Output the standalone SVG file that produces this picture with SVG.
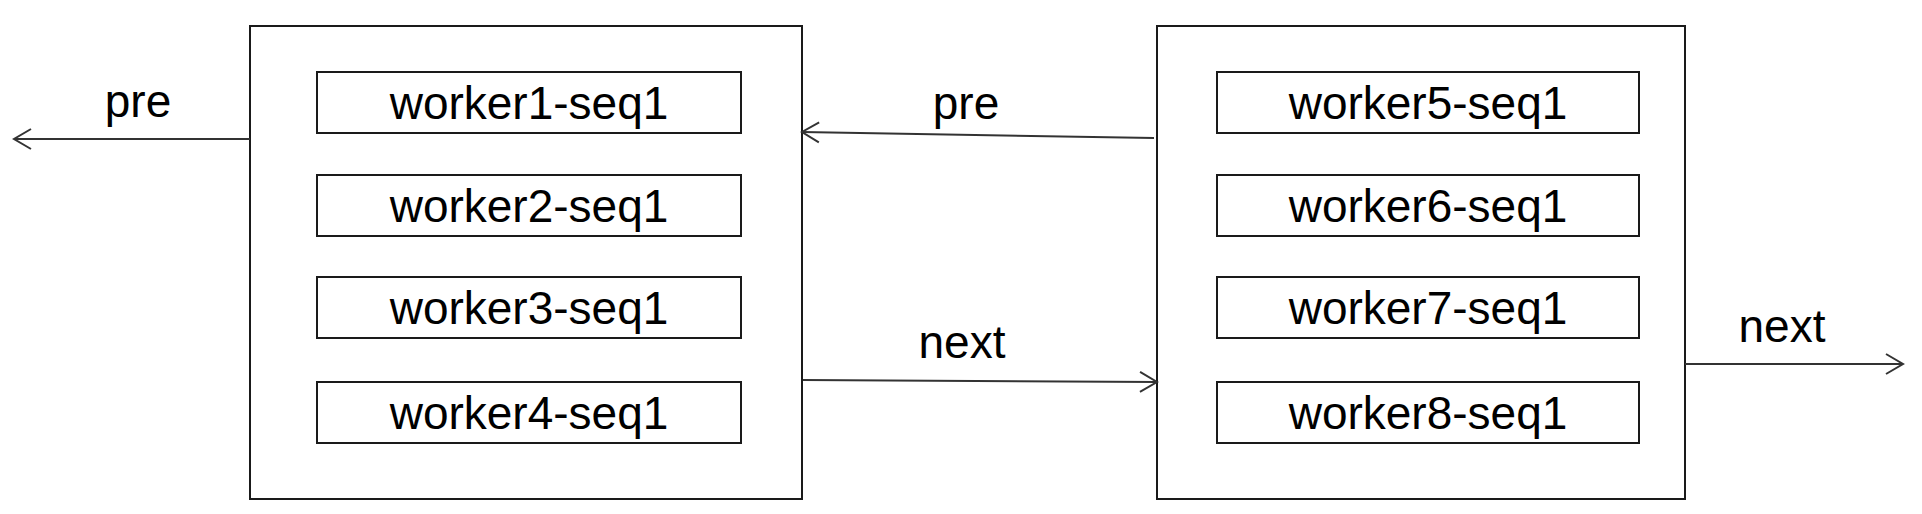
<svg xmlns="http://www.w3.org/2000/svg" width="1922" height="514" viewBox="0 0 1922 514">
<defs>
<style>
.outer{fill:#fff;stroke:#1a1a1a;stroke-width:2}
.inner{fill:#fff;stroke:#1a1a1a;stroke-width:2}
.t{font-family:"Liberation Sans",Arial,sans-serif;font-size:46px;fill:#000;text-anchor:middle}
.conn{stroke:#333;stroke-width:2;fill:none}
</style>
<marker id="arr" markerWidth="20" markerHeight="24" refX="18" refY="12" orient="auto" markerUnits="userSpaceOnUse">
<path d="M1,2 L18,12 L1,22" fill="none" stroke="#333" stroke-width="2"/>
</marker>
</defs>
<rect width="1922" height="514" fill="#fff"/>
<g id="group1">
<rect class="outer" x="250" y="26" width="552" height="473"/>
<g id="worker1"><rect class="inner" x="317" y="72" width="424" height="61"/><text class="t" x="529" y="119">worker1-seq1</text></g>
<g id="worker2"><rect class="inner" x="317" y="175" width="424" height="61"/><text class="t" x="529" y="222">worker2-seq1</text></g>
<g id="worker3"><rect class="inner" x="317" y="277" width="424" height="61"/><text class="t" x="529" y="324">worker3-seq1</text></g>
<g id="worker4"><rect class="inner" x="317" y="382" width="424" height="61"/><text class="t" x="529" y="429">worker4-seq1</text></g>
</g>
<g id="group2">
<rect class="outer" x="1157" y="26" width="528" height="473"/>
<g id="worker5"><rect class="inner" x="1217" y="72" width="422" height="61"/><text class="t" x="1428" y="119">worker5-seq1</text></g>
<g id="worker6"><rect class="inner" x="1217" y="175" width="422" height="61"/><text class="t" x="1428" y="222">worker6-seq1</text></g>
<g id="worker7"><rect class="inner" x="1217" y="277" width="422" height="61"/><text class="t" x="1428" y="324">worker7-seq1</text></g>
<g id="worker8"><rect class="inner" x="1217" y="382" width="422" height="61"/><text class="t" x="1428" y="429">worker8-seq1</text></g>
</g>
<g id="connectors">
<line class="conn" x1="250" y1="139" x2="14" y2="139" marker-end="url(#arr)"/>
<text class="t" x="138" y="117">pre</text>
<line class="conn" x1="1154" y1="138" x2="802" y2="132" marker-end="url(#arr)"/>
<text class="t" x="966" y="119">pre</text>
<line class="conn" x1="803" y1="380" x2="1157" y2="382" marker-end="url(#arr)"/>
<text class="t" x="962" y="358">next</text>
<line class="conn" x1="1685" y1="364" x2="1903" y2="364" marker-end="url(#arr)"/>
<text class="t" x="1782" y="342">next</text>
</g>
</svg>
